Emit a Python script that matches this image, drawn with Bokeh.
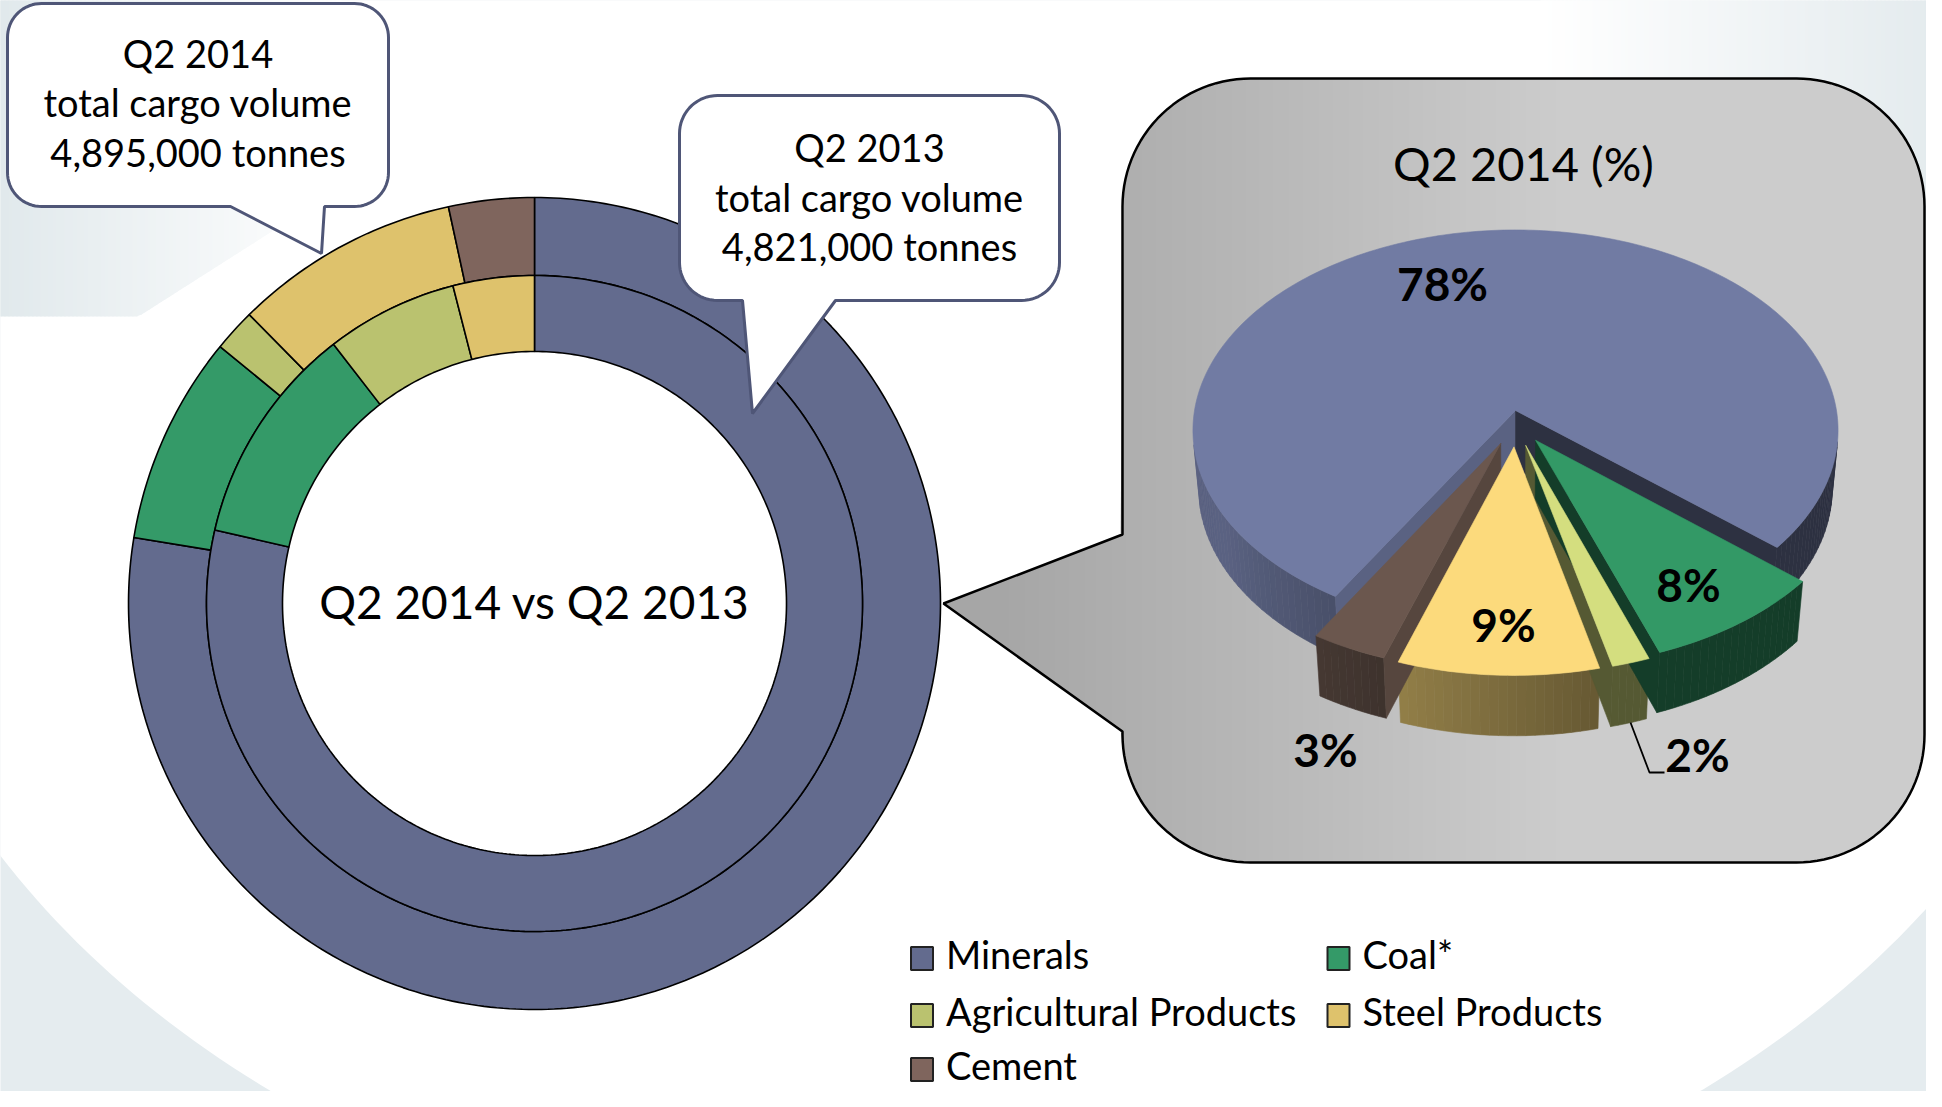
import numpy as np
from bokeh.plotting import figure
from bokeh.models import Range1d
from bokeh.core.properties import value
from bokeh.embed import file_html
from bokeh.resources import INLINE

# ---------------- data ----------------
categories = ["Minerals", "Coal*", "Agricultural Products", "Steel Products", "Cement"]
share_2014 = [77.6, 8.3, 1.7, 9.0, 3.4]     # % of Q2 2014 cargo volume
share_2013 = [78.6, 10.9, 6.5, 4.0, 0.0]    # % of Q2 2013 cargo volume
total_2014 = 4895000
total_2013 = 4821000
periods = ["Q2 2014", "Q2 2013"]

colors_2d = ["#636B8E", "#349A68", "#BAC26F", "#DEC26C", "#7F655D"]
colors_3d = ["#717BA3", "#339966", "#D4DE7F", "#FCDA7C", "#6B574E"]

# ---------------- layout ----------------
W, H = 1926, 1091
FONT = value("Lato")
BASE_SHIFT = 0.42   # em offset between requested and drawn baseline


def bl(y, fs):
    return y - BASE_SHIFT * fs


p = figure(width=W, height=H, x_range=Range1d(0, W), y_range=Range1d(H, 0),
           output_backend="svg", toolbar_location=None, x_axis_type=None, y_axis_type=None,
           min_border=0)
p.outline_line_color = None
p.grid.visible = False
p.background_fill_color = "white"
p.border_fill_color = "white"


def hex_rgb(h):
    return [int(h[i:i + 2], 16) for i in (1, 3, 5)]


def rgb_hex(c):
    return "#%02x%02x%02x" % tuple(int(max(0, min(255, round(v)))) for v in c)


def lerp_col(a, b, t):
    ca, cb = hex_rgb(a), hex_rgb(b)
    return rgb_hex([x + (y - x) * t for x, y in zip(ca, cb)])


def shade(h, f):
    return rgb_hex([v * f for v in hex_rgb(h)])


# ---------------- background ----------------
BG_GREY = "#E5ECEF"
p.quad(left=[-10], right=[1950], top=[-10], bottom=[1120], fill_color=BG_GREY, line_color=None)
t = np.linspace(0, 2 * np.pi, 400)
p.patch(985 + 1130 * np.cos(t), 450 + 827 * np.sin(t), fill_color="white", line_color=None)


def tl_bottom(x):
    return 316.0 if x <= 138 else 316.0 - (x - 138) * 0.637


xs_l, ys_l, cs_l = [], [], []
for xa in np.arange(-4, 340, 4):
    xb = xa + 5
    xs_l.append([xa, xb, xb, xa])
    ys_l.append([-5, -5, tl_bottom(xb), tl_bottom(xa)])
    cs_l.append(lerp_col("#E1E9EC", "#FFFFFF", min(1, max(0, xa) / 340)))
for xa in np.arange(1540, 1946, 4):
    xb = xa + 5
    xs_l.append([xa, xb, xb, xa])
    ys_l.append([-5, -5, 330, 330])
    cs_l.append(lerp_col("#FFFFFF", "#E4EBEE", min(1, (xa - 1540) / 390)))
p.patches(xs_l, ys_l, fill_color=cs_l, line_color=None)

# ---------------- double donut ----------------
DCX, DCY = 534, 603
R_OUT, R_MID, R_IN = 406, 328, 252


def ring(shares, r_in, r_out):
    xs, ys, cols = [], [], []
    start = 0.0
    for s, c in zip(shares, colors_2d):
        if s > 0:
            a = np.radians(np.linspace(start, start + s, max(6, int(s * 4))) * 3.6)
            xs.append(list(DCX + r_out * np.sin(a)) + list(DCX + r_in * np.sin(a[::-1])))
            ys.append(list(DCY - r_out * np.cos(a)) + list(DCY - r_in * np.cos(a[::-1])))
            cols.append(c)
        start += s
    return xs, ys, cols


for shares, ri, ro in [(share_2014, R_MID, R_OUT), (share_2013, R_IN, R_MID)]:
    xs, ys, cols = ring(shares, ri, ro)
    p.patches(xs, ys, fill_color=cols, line_color="black", line_width=1.6)


# ---------------- callouts ----------------
def rounded_path(x0, y0, x1, y1, r, tail=None, n=18):
    pts = []

    def arc(cx, cy, a0, a1):
        for tt in np.radians(np.linspace(a0, a1, n)):
            pts.append((cx + r * np.cos(tt), cy + r * np.sin(tt)))

    arc(x0 + r, y0 + r, 180, 270)
    arc(x1 - r, y0 + r, 270, 360)
    arc(x1 - r, y1 - r, 0, 90)
    if tail and tail[0] == "bottom":
        pts.extend(tail[1])
    arc(x0 + r, y1 - r, 90, 180)
    if tail and tail[0] == "left":
        pts.extend(tail[1])
    return [q[0] for q in pts], [q[1] for q in pts]


CALLOUT_LINE = "#4F5677"
c1x, c1y = rounded_path(7, 3, 388, 206, 34, ("bottom", [(324, 206), (321, 253), (230, 206)]))
c2x, c2y = rounded_path(679, 95, 1059, 300, 38, ("bottom", [(835, 300), (752, 413), (742, 300)]))
p.patches([c1x, c2x], [c1y, c2y], fill_color="white", line_color=CALLOUT_LINE, line_width=3)

FS_CALL = 38
callout_text = []
for per, tot, cx, base in [(periods[0], total_2014, 197.5, 68), (periods[1], total_2013, 869, 162.5)]:
    lines = [per, "total cargo volume", f"{tot:,} tonnes"]
    for k, ln in enumerate(lines):
        callout_text.append((cx, bl(base + 49.5 * k, FS_CALL), ln))
p.text(x=[c[0] for c in callout_text], y=[c[1] for c in callout_text], text=[c[2] for c in callout_text],
       text_align="center", text_baseline="alphabetic", text_font=FONT, text_font_size=f"{FS_CALL}px",
       text_color="black")

p.text(x=[DCX], y=[bl(620, 46)], text=[f"{periods[0]} vs {periods[1]}"], text_align="center",
       text_baseline="alphabetic", text_font=FONT, text_font_size="46px", text_color="black")

# ---------------- grey box with pointer ----------------
BX0, BY0, BX1, BY1, BR = 1122, 78, 1924, 862, 128
TIP = (943, 603)
TAIL_TOP, TAIL_BOT = 534, 731


def box_span(x):
    if x < BX0:
        f = (x - TIP[0]) / (BX0 - TIP[0])
        return TIP[1] + (TAIL_TOP - TIP[1]) * f, TIP[1] + (TAIL_BOT - TIP[1]) * f
    h = 0.0
    if x < BX0 + BR:
        d = BX0 + BR - x
        h = BR - np.sqrt(max(0.0, BR * BR - d * d))
    elif x > BX1 - BR:
        d = x - (BX1 - BR)
        h = BR - np.sqrt(max(0.0, BR * BR - d * d))
    return BY0 + h, BY1 - h


gx, gy, gc = [], [], []
for xa in np.arange(TIP[0], BX1, 3.0):
    xb = min(xa + 3.8, BX1)
    ta, ba = box_span(xa)
    tb, bb = box_span(xb)
    gx.append([xa, xb, xb, xa])
    gy.append([ta, tb, bb, ba])
    tt = min(1.0, max(0.0, (xa - 1000) / 560))
    gc.append(lerp_col("#A6A6A6", "#CCCCCC", tt))
p.patches(gx, gy, fill_color=gc, line_color=None)
bx, by = rounded_path(BX0, BY0, BX1, BY1, BR, ("left", [(BX0, TAIL_BOT), TIP, (BX0, TAIL_TOP)]), n=30)
p.patch(bx, by, fill_color=None, line_color="black", line_width=2.5)

p.text(x=[1523], y=[bl(182, 47)], text=[f"{periods[0]} (%)"], text_align="center",
       text_baseline="alphabetic", text_font=FONT, text_font_size="47px", text_color="black")

# ---------------- 3D pie ----------------
PCX, PCY = 1515, 410
PK, PD = 2555.0, 7.96
SIN_E, COS_E = 0.618, 0.786
THICK = 0.235
EXPLODE = 0.18
EXPLODE_XS = 0.6
PIE_FRONT = 80.6
CAM = np.array([0.0, PD * COS_E, PD * SIN_E])


def proj(X, Y, Z=0.0):
    depth = PD - Y * COS_E - Z * SIN_E
    up = -Y * SIN_E + Z * COS_E
    return PCX + PK * X / depth, PCY - PK * up / depth


def side_factor(phi):
    ph = phi % 360
    return 0.4 + 0.4 * min(1.0, max(0.0, (ph - 75) / 75))


def visible(normal_deg, P):
    n = np.array([np.cos(np.radians(normal_deg)), np.sin(np.radians(normal_deg)), 0.0])
    return float(np.dot(n, CAM - np.array(P))) > 0


order = [1, 2, 3, 4, 0]
gap = (100 - share_2014[0]) * 3.6
ang = PIE_FRONT - gap / 2
slices = {}
for i in order:
    span = share_2014[i] * 3.6
    slices[i] = (ang, ang + span)
    ang += span

face_x, face_y, face_c = [], [], []
top_x, top_y, top_c = [], [], []
for i in [0, 3, 4, 2, 1]:
    a1, a2 = slices[i]
    mid = np.radians((a1 + a2) / 2)
    if i == 0:
        ox = oy = 0.0
    else:
        ox, oy = EXPLODE * EXPLODE_XS * np.cos(mid), EXPLODE * np.sin(mid)
    phis = np.linspace(a1, a2, int((a2 - a1) / 1.5) + 2)
    for pa, pb in zip(phis[:-1], phis[1:]):
        pm = np.radians((pa + pb) / 2)
        if not visible((pa + pb) / 2, (ox + np.cos(pm), oy + np.sin(pm), -THICK / 2)):
            continue
        ra, rb = np.radians(pa), np.radians(pb)
        q = [proj(ox + np.cos(ra), oy + np.sin(ra)), proj(ox + np.cos(rb), oy + np.sin(rb)),
             proj(ox + np.cos(rb), oy + np.sin(rb), -THICK), proj(ox + np.cos(ra), oy + np.sin(ra), -THICK)]
        face_x.append([v[0] for v in q])
        face_y.append([v[1] for v in q])
        face_c.append(shade(colors_3d[i], side_factor((pa + pb) / 2)))
    for phe, psi in [(a1, a1 - 90), (a2, a2 + 90)]:
        re = np.radians(phe)
        if not visible(psi, (ox + 0.5 * np.cos(re), oy + 0.5 * np.sin(re), -THICK / 2)):
            continue
        q = [proj(ox, oy), proj(ox + np.cos(re), oy + np.sin(re)),
             proj(ox + np.cos(re), oy + np.sin(re), -THICK), proj(ox, oy, -THICK)]
        face_x.append([v[0] for v in q])
        face_y.append([v[1] for v in q])
        face_c.append(shade(colors_3d[i], 0.8 if np.cos(np.radians(psi)) > 0 else 0.4))
    arc = np.radians(np.linspace(a1, a2, max(4, int(a2 - a1) + 2)))
    q = [proj(ox, oy)] + [proj(ox + np.cos(a), oy + np.sin(a)) for a in arc]
    top_x.append([v[0] for v in q])
    top_y.append([v[1] for v in q])
    top_c.append(colors_3d[i])

p.patches(face_x, face_y, fill_color=face_c, line_color=face_c, line_width=0.6)
p.patches(top_x, top_y, fill_color=top_c, line_color=top_c, line_width=0.6)

# percentage labels (positions follow the original layout)
FS_LAB = 46
LABEL_POS = [(1442, 302), (1688, 603), (1697, 773), (1503, 643), (1325, 768)]
p.text(x=[q[0] for q in LABEL_POS], y=[bl(q[1], FS_LAB) for q in LABEL_POS],
       text=[f"{round(s)}%" for s in share_2014], text_align="center", text_baseline="alphabetic",
       text_font=FONT, text_font_style="bold", text_font_size=f"{FS_LAB}px", text_color="black")
p.line([1630, 1649, 1664], [722, 772, 772], line_color="black", line_width=1.8)

# ---------------- legend ----------------
FS_LEG = 38
LEG_COL_X = [921.5, 1338]
LEG_ROW_Y = [958, 1015, 1069]
sq_l, sq_r, sq_t, sq_b, tx, ty = [], [], [], [], [], []
for k, name in enumerate(categories):
    cx, cy = LEG_COL_X[k % 2], LEG_ROW_Y[k // 2]
    sq_l.append(cx - 11); sq_r.append(cx + 11); sq_t.append(cy - 11.5); sq_b.append(cy + 11.5)
    tx.append(cx + 24); ty.append(bl(cy + 11.5, FS_LEG))
p.quad(left=sq_l, right=sq_r, top=sq_t, bottom=sq_b, fill_color=colors_2d, line_color="#222222",
       line_width=2)
p.text(x=tx, y=ty, text=categories, text_align="left", text_baseline="alphabetic", text_font=FONT,
       text_font_size=f"{FS_LEG}px", text_color="black")

open("out.html", "w").write(file_html(p, INLINE))
